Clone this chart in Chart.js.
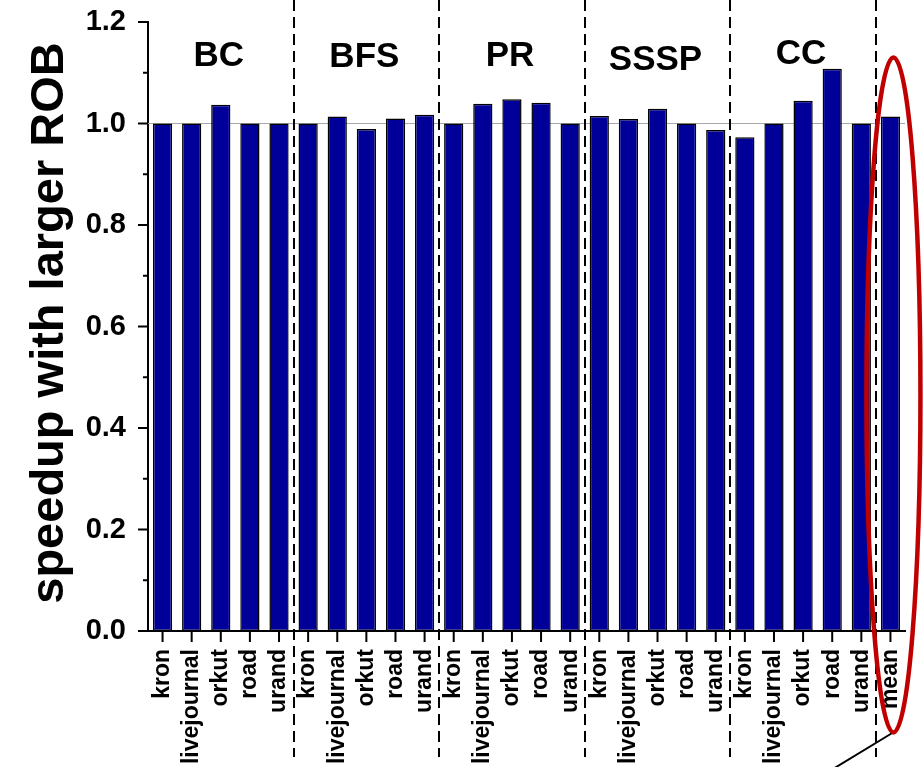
<!DOCTYPE html>
<html>
<head>
<meta charset="utf-8">
<script src="https://cdn.jsdelivr.net/npm/chart.js@4.4.1/dist/chart.umd.min.js"></script>
<style>
  html, body { margin: 0; padding: 0; background: #ffffff; }
  #wrap { width: 923px; height: 767px; }
</style>
</head>
<body>
<div id="wrap"><canvas id="chart" width="923" height="767"></canvas></div>
<script>
// Graph inputs per kernel, plus the overall mean
const inputs = ['kron', 'livejournal', 'orkut', 'road', 'urand'];
const kernels = ['BC', 'BFS', 'PR', 'SSSP', 'CC'];
const categories = [].concat(inputs, inputs, inputs, inputs, inputs, ['mean']);

// Speedup with the larger reorder buffer
const bcSpeedup   = [1.000, 1.000, 1.037, 1.000, 1.000];
const bfsSpeedup  = [1.000, 1.014, 0.989, 1.010, 1.017];
const prSpeedup   = [1.000, 1.039, 1.048, 1.041, 1.000];
const ssspSpeedup = [1.015, 1.009, 1.029, 1.000, 0.987];
const ccSpeedup   = [0.973, 1.000, 1.045, 1.108, 1.000];
const meanSpeedup = [1.014];
const speedup = [].concat(bcSpeedup, bfsSpeedup, prSpeedup, ssspSpeedup, ccSpeedup, meanSpeedup);

const yMajorTicks = [0.0, 0.2, 0.4, 0.6, 0.8, 1.0, 1.2];
const yMinorTicks = [0.1, 0.3, 0.5, 0.7, 0.9, 1.1];
const baseline = 1.0;

const FONT = '"Liberation Sans", Arial, Helvetica, sans-serif';

// keep the plot area fixed by the layout padding alone
function clearScalePadding(scale) {
  scale.paddingTop = 0;
  scale.paddingBottom = 0;
  scale.paddingLeft = 0;
  scale.paddingRight = 0;
}

const decorations = {
  id: 'decorations',
  beforeDatasetsDraw(chart) {
    const { ctx, chartArea, scales } = chart;
    const y = scales.y.getPixelForValue(baseline);
    ctx.save();
    ctx.strokeStyle = '#a8a8a8';
    ctx.lineWidth = 1;
    ctx.beginPath();
    ctx.moveTo(chartArea.left, Math.round(y) + 0.5);
    ctx.lineTo(chartArea.right, Math.round(y) + 0.5);
    ctx.stroke();
    ctx.restore();
  },
  afterDatasetsDraw(chart) {
    const { ctx, chartArea, scales } = chart;
    const xs = scales.x, ys = scales.y;
    ctx.save();

    // tick marks
    ctx.strokeStyle = '#000';
    ctx.lineWidth = 2;
    ctx.beginPath();
    yMajorTicks.forEach(v => {
      const p = ys.getPixelForValue(v);
      ctx.moveTo(chartArea.left - 10, p);
      ctx.lineTo(chartArea.left, p);
    });
    yMinorTicks.forEach(v => {
      const p = ys.getPixelForValue(v);
      ctx.moveTo(chartArea.left - 5, p);
      ctx.lineTo(chartArea.left, p);
    });
    categories.forEach((c, i) => {
      const p = xs.getPixelForValue(i);
      ctx.moveTo(p, chartArea.bottom);
      ctx.lineTo(p, chartArea.bottom + 11);
    });
    ctx.stroke();

    // dashed separators between kernels
    ctx.setLineDash([11, 6]);
    ctx.lineWidth = 2;
    ctx.beginPath();
    for (let k = 1; k <= kernels.length; k++) {
      const i = k * inputs.length - 1;
      const p = Math.round((xs.getPixelForValue(i) + xs.getPixelForValue(i + 1)) / 2);
      ctx.moveTo(p, 0);
      ctx.lineTo(p, 757);
    }
    ctx.stroke();
    ctx.setLineDash([]);

    // kernel names
    const nameOffsets = [0, 1, 0, 4, -2];
    ctx.fillStyle = '#000';
    ctx.font = 'bold 35px ' + FONT;
    ctx.textAlign = 'center';
    ctx.textBaseline = 'alphabetic';
    kernels.forEach((name, k) => {
      const p = xs.getPixelForValue(k * inputs.length + 2);
      ctx.fillText(name, p - 2, 66 + nameOffsets[k]);
    });

    // highlight around the mean bar
    const mi = categories.length - 1;
    const cx = xs.getPixelForValue(mi) + 3;
    const top = ys.getPixelForValue(1.13);
    const bottom = ys.getPixelForValue(-0.2);
    const cy = (top + bottom) / 2;
    const ry = (bottom - top) / 2;
    ctx.strokeStyle = '#c00000';
    ctx.lineWidth = 4.5;
    ctx.beginPath();
    ctx.ellipse(cx, cy, 27, ry, 0, 0, Math.PI * 2);
    ctx.stroke();

    ctx.strokeStyle = '#000';
    ctx.lineWidth = 2;
    ctx.beginPath();
    ctx.moveTo(cx - 2, bottom + 1);
    ctx.lineTo(cx - 2 - 84, bottom + 1 + 51);
    ctx.stroke();

    // axis title
    ctx.fillStyle = '#000';
    ctx.font = 'bold 47px ' + FONT;
    ctx.translate(63, 323);
    ctx.rotate(-Math.PI / 2);
    ctx.textAlign = 'center';
    ctx.textBaseline = 'alphabetic';
    ctx.fillText('speedup with larger ROB', 0, 0);
    ctx.restore();
  }
};

new Chart(document.getElementById('chart'), {
  type: 'bar',
  data: {
    labels: categories,
    datasets: [{
      data: speedup,
      backgroundColor: '#000099',
      borderColor: '#000000',
      borderWidth: 1.5,
      borderSkipped: false,
      barPercentage: 0.66,
      categoryPercentage: 1.0
    }]
  },
  options: {
    responsive: false,
    devicePixelRatio: 1,
    animation: false,
    layout: { padding: { top: 22, right: 18, left: 0, bottom: 0 } },
    plugins: {
      legend: { display: false },
      tooltip: { enabled: false },
      title: { display: false }
    },
    scales: {
      x: {
        offset: true,
        grid: { display: false, drawTicks: false },
        border: { display: true, color: '#000', width: 2 },
        ticks: {
          autoSkip: false,
          minRotation: 90,
          maxRotation: 90,
          padding: 18,
          color: '#000',
          font: { family: FONT, size: 23, weight: 'bold' }
        },
        afterFit(scale) { scale.height = 136; clearScalePadding(scale); }
      },
      y: {
        min: 0,
        max: 1.2,
        grid: { display: false, drawTicks: false },
        border: { display: true, color: '#000', width: 2 },
        afterBuildTicks(scale) {
          scale.ticks = yMajorTicks.map(v => ({ value: v }));
        },
        ticks: {
          padding: 22,
          color: '#000',
          font: { family: FONT, size: 29, weight: 'bold' },
          callback: v => Number(v).toFixed(1)
        },
        afterFit(scale) { scale.width = 148; clearScalePadding(scale); }
      }
    }
  },
  plugins: [decorations]
});
</script>
</body>
</html>
